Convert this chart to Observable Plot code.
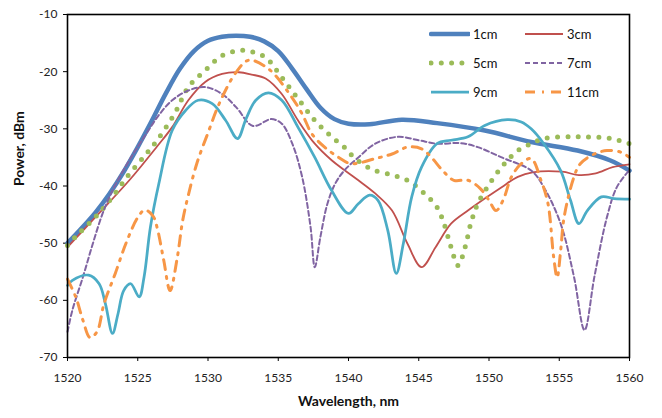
<!DOCTYPE html>
<html>
<head>
<meta charset="utf-8">
<script src="https://cdn.jsdelivr.net/npm/d3@7"></script>
<script src="https://cdn.jsdelivr.net/npm/@observablehq/plot@0.6"></script>
<style>
  html, body { margin: 0; padding: 0; background: #fff; }
  #chart { position: relative; width: 662px; height: 418px; font-family: Lato, "Open Sans", sans-serif; }
  .lg { position: absolute; height: 18px; display: flex; align-items: center; font-size: 13px; color: #111; white-space: nowrap; }
  .lg svg { display: block; margin-right: 3px; }
</style>
</head>
<body>
<div id="chart"></div>
<script>
// ---- data ----
const seriesNames = ["1cm", "3cm", "5cm", "7cm", "9cm", "11cm"];
const xTicks = [1520, 1525, 1530, 1535, 1540, 1545, 1550, 1555, 1560];
const yTicks = [-70, -60, -50, -40, -30, -20, -10];

const wl1 = [1520, 1521, 1522, 1523, 1524, 1525, 1526, 1527, 1528, 1529, 1530, 1531, 1532, 1533, 1534, 1535, 1536, 1537, 1538, 1539, 1540, 1541.5, 1543.8, 1546.3, 1549.7, 1553, 1556.3, 1558.6, 1560];
const pw1 = [-50, -47.4, -44.6, -41.3, -37.5, -33.2, -28.6, -23.8, -19.5, -16.4, -14.6, -13.9, -13.7, -13.9, -14.7, -16.4, -19.5, -23, -26.3, -28.3, -29.1, -29.2, -28.4, -29, -30.3, -32.3, -33.8, -35.5, -37.3];

const wl3 = [1520, 1522, 1524.4, 1526.4, 1527.45, 1528.6, 1529.8, 1531, 1532.2, 1533.1, 1534.1, 1535.25, 1536.4, 1537.6, 1538.8, 1539.7, 1540.7, 1541.9, 1543.1, 1544.2, 1545.2, 1546.2, 1547.3, 1548.5, 1549.7, 1550.9, 1552.05, 1553.1, 1555.2, 1556.4, 1557.6, 1558.8, 1560];
const pw3 = [-50.7, -45.4, -39, -33, -29.7, -25, -21.8, -20.4, -20.1, -20.5, -21.2, -23.9, -28.5, -32.6, -35.5, -37.2, -39, -41.3, -44.3, -50.1, -54.2, -50.7, -46.6, -44.3, -42.2, -40.2, -38.4, -37.6, -37.5, -38.1, -37.8, -36.7, -36.2];

const wl5 = [1520, 1520.8, 1522, 1523.2, 1524.4, 1525.6, 1526.5, 1527.7, 1528.6, 1529.8, 1531, 1532.2, 1533.1, 1534.1, 1535.25, 1536.4, 1537.6, 1538.8, 1539.7, 1540.4, 1541.6, 1543.1, 1544.2, 1545.4, 1546.3, 1546.8, 1547.3, 1547.8, 1548.3, 1548.7, 1549.2, 1550.2, 1551.1, 1552.05, 1553, 1553.9, 1556.3, 1558.7, 1560];
const pw5 = [-50.4, -48.3, -45.4, -41.9, -37.9, -34.4, -31.6, -27, -22.7, -19.8, -17.2, -16.3, -16.5, -17.5, -21, -24.7, -28.5, -31.4, -33.2, -35, -37, -38.1, -39, -41.3, -43.7, -46.6, -50.7, -53.9, -50.7, -46.6, -43.1, -39, -36.1, -33.8, -32.6, -31.7, -31.4, -31.7, -32.6];

const wl7 = [1520, 1520.35, 1521.1, 1521.8, 1522.5, 1523.2, 1524.4, 1525.6, 1526.5, 1527.45, 1528.6, 1529.8, 1531, 1532, 1533.2, 1534.5, 1535.25, 1536, 1536.7, 1537.3, 1537.6, 1538, 1538.5, 1539.05, 1539.7, 1540.7, 1541.9, 1543.5, 1545, 1546.3, 1548, 1549.2, 1550.9, 1553, 1553.9, 1555.1, 1556.05, 1556.8, 1557.5, 1558.4, 1559.1, 1560];
const pw7 = [-65.5, -61.7, -55.9, -50.1, -44.8, -40.8, -35.5, -30.9, -27.6, -25, -23.3, -22.7, -23.9, -26.2, -29.5, -28.3, -29.1, -32.6, -38.4, -47.2, -54.2, -48.9, -43.1, -39.6, -37.3, -35, -32.6, -31.4, -32, -32.6, -32.5, -33.2, -35, -37.3, -40.2, -46.6, -55.9, -65.2, -55.9, -45.4, -40.2, -37.2];

const wl9 = [1520, 1520.35, 1521.5, 1522.25, 1522.7, 1523.2, 1523.6, 1524, 1524.5, 1525.1, 1525.45, 1525.9, 1526.5, 1527.45, 1528.4, 1529.3, 1530.3, 1531.25, 1532.1, 1532.7, 1533.4, 1534.3, 1535.25, 1536.4, 1537.6, 1538.8, 1540, 1540.7, 1541.5, 1542.1, 1542.8, 1543.4, 1543.9, 1544.5, 1545.2, 1546.3, 1547.3, 1548.5, 1549.7, 1551.3, 1552.3, 1553, 1553.9, 1555.1, 1555.8, 1556.4, 1557, 1558, 1558.9, 1560];
const pw9 = [-57.4, -56.5, -55.6, -57.1, -60.6, -65.8, -62.3, -58.3, -57.1, -59.4, -55.9, -47.2, -39.6, -30.3, -26.8, -25, -25.6, -28.5, -31.7, -28.3, -25, -23.7, -25, -29.7, -35, -40.8, -44.8, -43.1, -41.6, -42.5, -47.8, -55.3, -50.1, -41.9, -36.7, -32.6, -32, -31.4, -29.4, -28.4, -28.8, -30, -32.6, -37.3, -42.5, -46.6, -44.3, -41.9, -42.2, -42.3];

const wl11 = [1520, 1520.6, 1521.1, 1521.6, 1522.1, 1522.6, 1523.4, 1524.15, 1525, 1525.5, 1526.1, 1526.4, 1526.85, 1527.3, 1527.8, 1528.2, 1528.6, 1529.2, 1530, 1530.85, 1532, 1532.9, 1534.3, 1535.8, 1536.7, 1537.4, 1538.3, 1539.3, 1540.2, 1541.9, 1543.1, 1544.2, 1545.2, 1545.9, 1546.7, 1547.5, 1548.5, 1549.4, 1550, 1550.5, 1551, 1551.6, 1552.3, 1553, 1553.7, 1554.2, 1554.6, 1554.85, 1555.1, 1555.35, 1556.05, 1556.5, 1557.5, 1558.4, 1559.4, 1560];
const pw11 = [-56.3, -59.5, -63.5, -66.5, -65.5, -60.6, -55.3, -50.1, -45.5, -44.2, -45.3, -47.5, -53, -58.3, -52.7, -46, -41.6, -36.1, -30.7, -25.3, -20.1, -18, -19.5, -23.9, -27.4, -30.9, -33.2, -35, -36.1, -35.2, -34.4, -33.2, -33.5, -35, -37.3, -39, -39, -40.5, -42.5, -44.3, -42.5, -38.4, -36.1, -35.2, -39, -43.1, -52.4, -56, -51.3, -45.4, -38.4, -36.1, -34.4, -33.8, -34.1, -35];

// ---- styles ----
const styles = {
  "1cm":  {stroke: "#4F81BD", strokeWidth: 4.5},
  "3cm":  {stroke: "#C0504D", strokeWidth: 1.8},
  "5cm":  {stroke: "#9BBB59", strokeWidth: 5, strokeDasharray: "0 10.3", strokeLinecap: "round"},
  "7cm":  {stroke: "#8064A2", strokeWidth: 2, strokeDasharray: "5 3"},
  "9cm":  {stroke: "#4BACC6", strokeWidth: 2.75},
  "11cm": {stroke: "#F79646", strokeWidth: 3, strokeDasharray: "10 7 2 7"}
};

const wls = [wl1, wl3, wl5, wl7, wl9, wl11];
const pws = [pw1, pw3, pw5, pw7, pw9, pw11];
const rows = seriesNames.flatMap((s, i) => wls[i].map((w, j) => ({s, wl: w, p: pws[i][j]})));

const chart = Plot.plot({
  width: 662,
  height: 418,
  marginLeft: 67,
  marginRight: 33,
  marginTop: 14,
  marginBottom: 61,
  style: {fontFamily: "Lato, 'Open Sans', sans-serif", fontSize: "12px", color: "#222", background: "#fff"},
  x: {domain: [1520, 1560]},
  y: {domain: [-70, -10]},
  marks: [
    Plot.axisX({ticks: xTicks, tickSize: 4, tickPadding: 12, tickFormat: d => `${d}`, label: null, stroke: "#000", fontSize: 12}),
    Plot.axisY({ticks: yTicks, tickSize: 4, tickPadding: 6, tickFormat: d => `${d}`, label: null, stroke: "#000", fontSize: 12}),
    ...seriesNames.map(s => Plot.line(rows.filter(d => d.s === s), {
      x: "wl", y: "p", curve: "catmull-rom", ...styles[s]
    })),
    Plot.frame({stroke: "#000", strokeWidth: 1.6}),
    Plot.text(["Wavelength, nm"], {frameAnchor: "bottom", dy: 48, fontWeight: "bold", fontSize: 14, fill: "#111"}),
    Plot.text(["Power, dBm"], {frameAnchor: "left", dx: -48, rotate: -90, fontWeight: "bold", fontSize: 14, fill: "#111"})
  ]
});

const host = document.getElementById("chart");
host.appendChild(chart);

// ---- legend overlay ----
seriesNames.forEach((s, i) => {
  const row = Math.floor(i / 2), col = i % 2;
  const st = styles[s];
  const el = document.createElement("div");
  el.className = "lg";
  el.style.left = (429 + col * 94) + "px";
  el.style.top = (25 + row * 29) + "px";
  const ns = "http://www.w3.org/2000/svg";
  const svg = document.createElementNS(ns, "svg");
  svg.setAttribute("width", 41);
  svg.setAttribute("height", 18);
  const ln = document.createElementNS(ns, "line");
  ln.setAttribute("x1", 2); ln.setAttribute("x2", 40);
  ln.setAttribute("y1", 9); ln.setAttribute("y2", 9);
  ln.setAttribute("stroke", st.stroke);
  ln.setAttribute("stroke-width", st.strokeWidth);
  if (st.strokeDasharray) ln.setAttribute("stroke-dasharray", st.strokeDasharray);
  ln.setAttribute("stroke-linecap", st.strokeLinecap || (s === "1cm" ? "round" : "butt"));
  svg.appendChild(ln);
  const tx = document.createElement("span");
  tx.textContent = s;
  el.appendChild(svg);
  el.appendChild(tx);
  host.appendChild(el);
});
</script>
</body>
</html>
